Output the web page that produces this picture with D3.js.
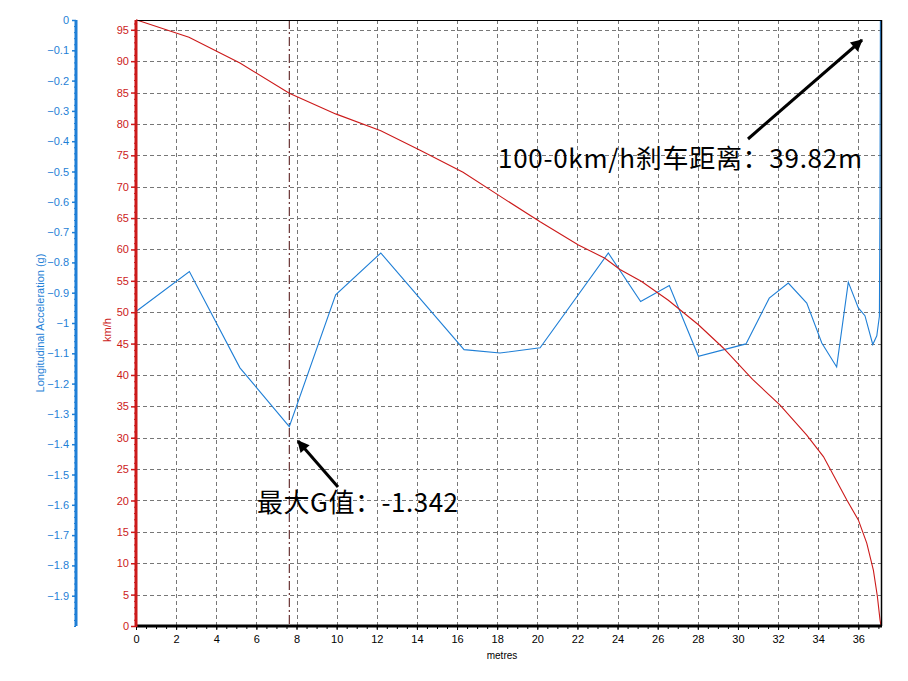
<!DOCTYPE html>
<html>
<head>
<meta charset="utf-8">
<script src="https://cdn.jsdelivr.net/npm/d3@7"></script>
<style>
  body { margin: 0; background: #fff; }
  svg text { font-family: "Liberation Sans", Arial, sans-serif; }
  .note { font-family: "Noto Sans CJK SC", "Noto Sans", sans-serif; }
</style>
</head>
<body>
<div id="viz"></div>
<script>
// longitudinal acceleration (g) against distance (m)
const accelDist = [0, 2.66, 5.18, 7.64, 9.95, 12.2, 16.35, 18.14, 20.14, 23.54, 25.15, 26.58, 28.03, 30.4,
  31.56, 32.51, 33.43, 34.18, 34.92, 35.5, 36.0, 36.33, 36.72, 36.92, 37.05, 37.08, 37.1];
const accelG = [-0.962, -0.83, -1.148, -1.342, -0.907, -0.769, -1.088, -1.099, -1.082, -0.769, -0.929, -0.876, -1.11, -1.069,
  -0.918, -0.868, -0.934, -1.066, -1.145, -0.865, -0.95, -0.976, -1.071, -1.042, -0.978, -0.599, 0];

// speed (km/h) against distance (m)
const speedDist = [0, 2.64, 5.18, 7.64, 9.95, 12.2, 14.16, 16.3, 18.14, 20.14, 22.05, 23.37, 24.12, 25.2, 26.53,
  28.03, 29.27, 30.73, 32.1, 33.43, 34.26, 35.42, 36.0, 36.42, 36.75, 36.95, 37.08, 37.13];
const speedKmh = [96.6, 93.8, 89.7, 84.9, 81.6, 78.9, 75.8, 72.3, 68.5, 64.4, 60.7, 58.6, 56.8, 54.9, 51.9,
  48.0, 44.3, 39.3, 35.2, 30.4, 27.0, 20.1, 16.9, 13.2, 8.9, 4.7, 1.0, 0];

const maxGDist = 7.64;
const maxGLabel = "最大G值：-1.342";
const brakeLabel = "100-0km/h刹车距离：39.82m";

const width = 908, height = 681;
const plot = {left: 136, right: 881, top: 20, bottom: 626};
const blueAxisX = 76;
const blue = "#1f7fd6", red = "#cc1a1a";

const svg = d3.select("#viz").append("svg")
  .attr("width", width)
  .attr("height", height);

// scales
const x = d3.scaleLinear().domain([0, 37.13]).range([plot.left, plot.right]);
const ySpeed = d3.scaleLinear().domain([0, 96.56]).range([plot.bottom, plot.top]);
const yG = d3.scaleLinear().domain([-2, 0]).range([plot.bottom, plot.top]);

// grid
const grid = svg.append("g").attr("stroke", "#777").attr("stroke-dasharray", "4,3").attr("stroke-width", 1);
grid.selectAll("line.h").data(d3.range(5, 96, 5)).join("line")
  .attr("x1", plot.left).attr("x2", plot.right)
  .attr("y1", d => Math.round(ySpeed(d)) + 0.5).attr("y2", d => Math.round(ySpeed(d)) + 0.5);
grid.selectAll("line.v").data(d3.range(2, 37, 2)).join("line")
  .attr("y1", plot.top).attr("y2", plot.bottom)
  .attr("x1", d => Math.round(x(d)) + 0.5).attr("x2", d => Math.round(x(d)) + 0.5);

// blue axis (g)
const gAxis = svg.append("g").attr("transform", "translate(" + blueAxisX + ",0)");
gAxis.append("g")
  .call(d3.axisLeft(yG).tickValues(d3.range(-2, 0.001, 0.02)).tickSize(2).tickFormat(""))
  .call(g => g.select(".domain").remove())
  .call(g => g.selectAll("line").attr("stroke", blue));
gAxis.append("g")
  .call(d3.axisLeft(yG).tickValues(d3.range(-1.9, 0.001, 0.1).map(v => +v.toFixed(1)))
    .tickSize(4).tickFormat(d => d3.format("")(+d.toFixed(1))))
  .call(g => g.select(".domain").remove())
  .call(g => g.selectAll("line").attr("stroke", blue).attr("stroke-width", 1.5))
  .call(g => g.selectAll("text").attr("fill", blue).attr("font-size", 11)
    .attr("font-family", "Liberation Sans, Arial, sans-serif").attr("x", -7));
gAxis.append("line").attr("y1", plot.top).attr("y2", plot.bottom)
  .attr("stroke", blue).attr("stroke-width", 3);
svg.append("text")
  .attr("transform", "translate(44," + (plot.top + plot.bottom) / 2 + ") rotate(-90)")
  .attr("text-anchor", "middle").attr("fill", blue).attr("font-size", 11)
  .text("Longitudinal Acceleration (g)");

// red axis (km/h)
const sAxis = svg.append("g").attr("transform", "translate(" + plot.left + ",0)");
sAxis.append("g")
  .call(d3.axisLeft(ySpeed).tickValues(d3.range(0, 97, 1)).tickSize(2).tickFormat(""))
  .call(g => g.select(".domain").remove())
  .call(g => g.selectAll("line").attr("stroke", red));
sAxis.append("g")
  .call(d3.axisLeft(ySpeed).tickValues(d3.range(0, 96, 5)).tickSize(5))
  .call(g => g.select(".domain").remove())
  .call(g => g.selectAll("line").attr("stroke", red).attr("stroke-width", 1.5))
  .call(g => g.selectAll("text").attr("fill", red).attr("font-size", 11)
    .attr("font-family", "Liberation Sans, Arial, sans-serif").attr("x", -7));
svg.append("text")
  .attr("transform", "translate(111," + ((plot.top + plot.bottom) / 2 + 7) + ") rotate(-90)")
  .attr("text-anchor", "middle").attr("fill", red).attr("font-size", 11)
  .text("km/h");

// x axis (metres)
const xAxisG = svg.append("g").attr("transform", "translate(0," + plot.bottom + ")");
xAxisG.append("g")
  .call(d3.axisBottom(x).tickValues(d3.range(0, 37.1, 0.5)).tickSize(3).tickFormat(""))
  .call(g => g.select(".domain").remove());
xAxisG.append("g")
  .call(d3.axisBottom(x).tickValues(d3.range(0, 37, 2)).tickSize(4))
  .call(g => g.select(".domain").remove())
  .call(g => g.selectAll("text").attr("fill", "#000").attr("font-size", 11)
    .attr("font-family", "Liberation Sans, Arial, sans-serif").attr("y", 9));
svg.append("text")
  .attr("x", 502).attr("y", 659)
  .attr("text-anchor", "middle").attr("font-size", 10).attr("fill", "#000")
  .text("metres");

// marker line at max G
svg.append("line")
  .attr("x1", x(maxGDist)).attr("x2", x(maxGDist))
  .attr("y1", plot.top).attr("y2", plot.bottom)
  .attr("stroke", "#4a0a0a").attr("stroke-width", 1)
  .attr("stroke-dasharray", "9,3,2,3");

// series
const accelLine = d3.line().x(d => x(d[0])).y(d => yG(d[1]));
svg.append("path")
  .datum(d3.zip(accelDist, accelG))
  .attr("d", accelLine)
  .attr("fill", "none").attr("stroke", blue).attr("stroke-width", 1.1);

const speedLine = d3.line().x(d => x(d[0])).y(d => ySpeed(d[1]));
svg.append("path")
  .datum(d3.zip(speedDist, speedKmh))
  .attr("d", speedLine)
  .attr("fill", "none").attr("stroke", red).attr("stroke-width", 1.1);

// frame
svg.append("line").attr("x1", plot.left).attr("x2", plot.right)
  .attr("y1", plot.top + 0.5).attr("y2", plot.top + 0.5).attr("stroke", "#000");
svg.append("line").attr("x1", plot.right + 0.5).attr("x2", plot.right + 0.5)
  .attr("y1", plot.top).attr("y2", plot.bottom).attr("stroke", "#000").attr("stroke-width", 1.5);
svg.append("line").attr("x1", plot.left).attr("x2", plot.right + 1)
  .attr("y1", plot.bottom).attr("y2", plot.bottom).attr("stroke", "#000").attr("stroke-width", 3);
svg.append("line").attr("x1", plot.left).attr("x2", plot.left)
  .attr("y1", plot.top).attr("y2", plot.bottom + 1).attr("stroke", red).attr("stroke-width", 3);

// annotations
svg.append("defs").append("marker")
  .attr("id", "arrow").attr("viewBox", "0 0 10 10")
  .attr("refX", 9).attr("refY", 5)
  .attr("markerWidth", 16).attr("markerHeight", 12)
  .attr("markerUnits", "userSpaceOnUse")
  .attr("orient", "auto")
  .append("path").attr("d", "M0,0 L10,5 L0,10 z").attr("fill", "#000");

svg.append("line")
  .attr("x1", 748).attr("y1", 139).attr("x2", 862).attr("y2", 40)
  .attr("stroke", "#000").attr("stroke-width", 3).attr("marker-end", "url(#arrow)");
svg.append("line")
  .attr("x1", 338).attr("y1", 487).attr("x2", 298).attr("y2", 441)
  .attr("stroke", "#000").attr("stroke-width", 3).attr("marker-end", "url(#arrow)");

svg.append("text").attr("class", "note")
  .attr("x", 498).attr("y", 168).attr("font-size", 26).attr("fill", "#000")
  .attr("textLength", 364).attr("lengthAdjust", "spacing")
  .text(brakeLabel);
svg.append("text").attr("class", "note")
  .attr("x", 257).attr("y", 512).attr("font-size", 26).attr("fill", "#000")
  .attr("textLength", 201).attr("lengthAdjust", "spacing")
  .text(maxGLabel);
</script>
</body>
</html>
